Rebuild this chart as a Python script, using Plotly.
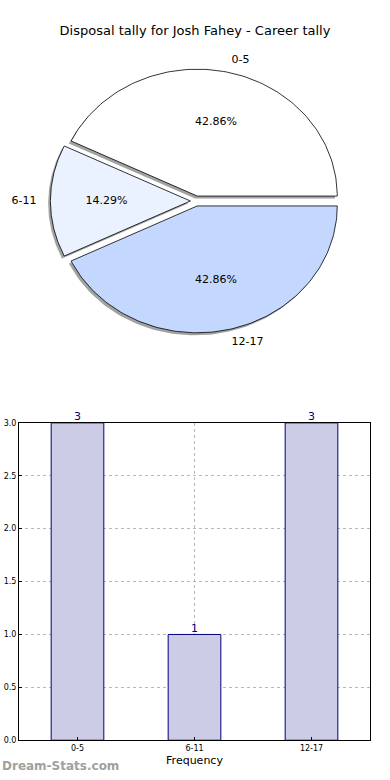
import numpy as np
import plotly.graph_objects as go

# ---- data ----
categories = ["0-5", "6-11", "12-17"]
counts = [3, 1, 3]
pie_colors = ["#FFFFFF", "#EBF2FF", "#C4D8FF"]
title_text = "Disposal tally for Josh Fahey - Career tally"
y_ticks = [0.0, 0.5, 1.0, 1.5, 2.0, 2.5, 3.0]

W, H = 390, 780
FONT = "DejaVu Sans"
explode = 0.04
S = 0.9935  # vertical correction


def py(p):
    return p / S


fig = go.Figure()

vals = np.array(counts, dtype=float)
fracs = vals / vals.sum()
bounds = np.concatenate([[0], np.cumsum(fracs)]) * 360.0

def wedge(t1, t2, cx, cy, n=120):
    th = np.radians(np.linspace(t1, t2, n))
    xs = np.concatenate([[cx], cx + np.cos(th), [cx]])
    ys = np.concatenate([[cy], cy + np.sin(th), [cy]])
    return xs, ys

# shadows
for i in range(len(categories)):
    t1, t2 = bounds[i], bounds[i + 1]
    mid = np.radians((t1 + t2) / 2)
    cx, cy = explode * np.cos(mid), explode * np.sin(mid)
    xs, ys = wedge(t1, t2, cx - 0.016, cy - 0.02)
    fig.add_trace(go.Scatter(x=xs, y=ys, fill="toself", mode="lines",
                             line=dict(color="rgba(0,0,0,0)", width=0),
                             fillcolor="rgba(100,100,100,0.6)", hoverinfo="skip",
                             showlegend=False, xaxis="x2", yaxis="y2"))
# wedges
for i in range(len(categories)):
    t1, t2 = bounds[i], bounds[i + 1]
    mid = np.radians((t1 + t2) / 2)
    cx, cy = explode * np.cos(mid), explode * np.sin(mid)
    xs, ys = wedge(t1, t2, cx, cy)
    fig.add_trace(go.Scatter(x=xs, y=ys, fill="toself", mode="lines",
                             line=dict(color="black", width=0.8),
                             fillcolor=pie_colors[i], hoverinfo="skip",
                             showlegend=False, xaxis="x2", yaxis="y2"))
    # label
    lx, ly = cx + 1.1 * np.cos(mid), cy + 1.1 * np.sin(mid)
    pos = "middle right" if lx > 0 else "middle left"
    fig.add_trace(go.Scatter(x=[lx], y=[ly], mode="text", text=[categories[i]],
                             textposition=pos, textfont=dict(family=FONT, size=11, color="black"),
                             hoverinfo="skip", showlegend=False, xaxis="x2", yaxis="y2"))
    px, pyy = cx + 0.6 * np.cos(mid), cy + 0.6 * np.sin(mid)
    fig.add_trace(go.Scatter(x=[px], y=[pyy], mode="text", text=["%.2f%%" % (fracs[i] * 100)],
                             textposition="middle center", textfont=dict(family=FONT, size=11, color="black"),
                             hoverinfo="skip", showlegend=False, xaxis="x2", yaxis="y2"))

# ---- bar chart ----
fig.add_trace(go.Bar(x=categories, y=counts, width=0.45,
                     marker=dict(color="#CCCCE6", line=dict(color="#000080", width=1)),
                     showlegend=False, hoverinfo="skip", xaxis="x", yaxis="y"))
fig.add_trace(go.Scatter(x=categories, y=counts, mode="text", text=[str(c) for c in counts],
                         textposition="top center", cliponaxis=False,
                         textfont=dict(family=FONT, size=11, color="#000080"),
                         showlegend=False, hoverinfo="skip", xaxis="x", yaxis="y"))

cx0, cy0 = 196, py(198)
rx, ry = 140.0, 127.5 / S
pie_top, pie_bot = 0, py(380)

grid = dict(showgrid=True, gridcolor="#b8b8b8", griddash="dot", gridwidth=1)

fig.update_layout(
    width=W, height=H, autosize=False,
    margin=dict(l=0, r=0, t=0, b=0),
    paper_bgcolor="white", plot_bgcolor="white",
    font=dict(family=FONT, color="black"),
    title=dict(text=title_text, x=0.5, xanchor="center", y=1 - 30 / H, yanchor="middle",
               font=dict(family=FONT, size=13, color="black")),
    xaxis2=dict(domain=[0, 1], range=[-cx0 / rx, (W - cx0) / rx], visible=False, fixedrange=True),
    yaxis2=dict(domain=[1 - pie_bot / H, 1 - pie_top / H],
                range=[-(pie_bot - cy0) / ry, (cy0 - pie_top) / ry], visible=False, fixedrange=True),
    xaxis=dict(domain=[19 / W, 370 / W], range=[-0.5, 2.5], type="category",
               showline=True, mirror=True, linecolor="black", linewidth=1,
               ticks="inside", ticklen=3, tickcolor="black",
               tickfont=dict(family=FONT, size=8, color="black"),
               title=dict(text="Frequency", font=dict(family=FONT, size=11, color="black"), standoff=4),
               anchor="y", **grid),
    yaxis=dict(domain=[1 - py(740) / H, 1 - py(421) / H], range=[0, 3.0],
               tickvals=y_ticks, ticktext=["%.1f" % v for v in y_ticks],
               showline=True, mirror=True, linecolor="black", linewidth=1,
               ticks="inside", ticklen=3, tickcolor="black",
               zeroline=False,
               tickfont=dict(family=FONT, size=8, color="black"), anchor="x", **grid),
    annotations=[dict(text="<b>Dream-Stats.com</b>", x=0, y=0, xref="paper", yref="paper",
                      xanchor="left", yanchor="bottom", showarrow=False,
                      font=dict(family="DejaVu Sans", size=12, color="#a0a0a0"))],
)

fig.write_html("out.html",
               config={"displayModeBar": False, "responsive": False},
               post_script="document.body.style.margin='0px';document.body.style.padding='0px';")
